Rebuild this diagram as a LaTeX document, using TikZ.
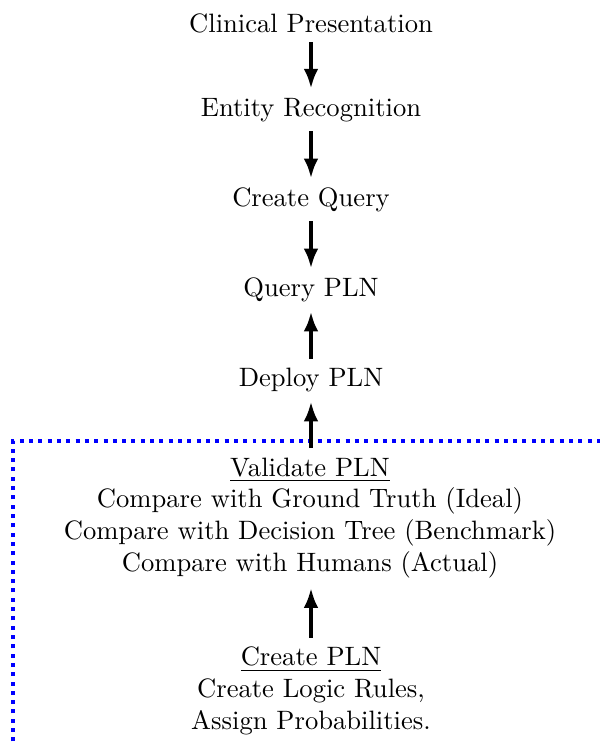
\documentclass[tikz,border=0pt]{standalone}
\usetikzlibrary{arrows.meta}
\begin{document}
\begin{tikzpicture}[x=0.376pt,y=-0.376pt,
  stage/.style={inner sep=3.33pt, align=center},
  flow/.style={line width=1.5pt, -{Latex[length=7.5pt,width=5.5pt]}},
  region/.style={blue, line width=1.5pt, dash pattern=on 1.5pt off 2pt}]
\useasboundingbox (0,0) rectangle (600,747);
\node[stage] (cp) at (311,23) {Clinical Presentation};
\node[stage] (er) at (311,110) {Entity Recognition};
\node[stage] (cq) at (311,200) {Create Query};
\node[stage] (qp) at (311,290) {Query PLN};
\node[stage] (dp) at (311,380) {Deploy PLN};
\node[stage] (val) at (310,518) {\underline{Validate PLN}\\Compare with Ground Truth (Ideal)\\Compare with Decision Tree (Benchmark)\\Compare with Humans (Actual)};
\node[stage] (cr) at (311,691) {\underline{Create PLN}\\Create Logic Rules,\\Assign Probabilities.};
\coordinate (rb) at (13,760);
\coordinate (rc) at (13,441);
\coordinate (rr) at (610,441);
\draw[region] (rb) -- (rc) -- (rr);
\draw[flow] (cp) -- (er);
\draw[flow] (er) -- (cq);
\draw[flow] (cq) -- (qp);
\draw[flow] (dp) -- (qp);
\draw[flow] (val.north -| dp) -- (dp);
\draw[flow] (cr.north -| dp) -- (val.south -| dp);
\end{tikzpicture}
\end{document}
